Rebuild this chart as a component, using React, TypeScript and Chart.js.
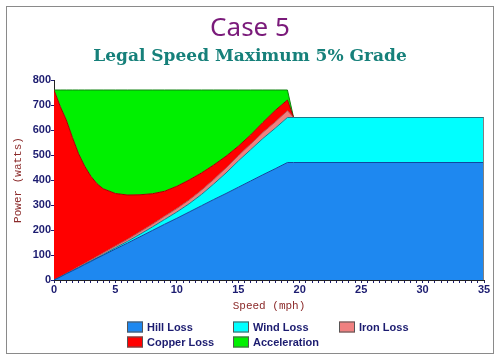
import React, { useEffect, useRef } from "react";
import { Chart, registerables } from "chart.js";

Chart.register(...registerables);

const speeds = [0, 0.5, 1, 1.5, 2, 2.5, 3, 3.5, 4, 5, 6, 7, 8, 9, 10, 11, 12, 13, 14, 15, 16, 17, 18, 19, 19.5, 35];
const hillLoss = [0, 12, 25, 37, 49, 62, 74, 87, 99, 124, 148, 173, 198, 223, 247, 272, 297, 322, 346, 371, 396, 421, 445, 470, 470, 470];
const windLoss = [0, 0, 0, 0, 1, 1, 2, 2, 3, 5, 7, 10, 14, 19, 25, 33, 45, 62, 82, 105, 125, 145, 162, 180, 180, 180];
const ironLoss = [0, 1, 1, 2, 3, 3, 4, 5, 6, 7, 8, 10, 11, 13, 14, 15, 17, 18, 20, 21, 22, 24, 25, 27, 0, 0];
const copperLoss = [760, 682, 614, 531, 452, 389, 335, 291, 257, 210, 177, 148, 122, 100, 89, 80, 69, 58, 47, 38, 37, 40, 46, 43, 0, 0];
const acceleration = [0, 65, 120, 190, 255, 305, 345, 375, 395, 414, 420, 419, 415, 405, 385, 360, 332, 300, 265, 225, 180, 130, 82, 40, 0, 0];

const seriesNames = ["Hill Loss", "Wind Loss", "Iron Loss", "Copper Loss", "Acceleration"];
const seriesValues = [hillLoss, windLoss, ironLoss, copperLoss, acceleration];
const fillColors = ["#1E88F0", "#00FFFF", "#F08080", "#FF0000", "#00F000"];
const lineColors = ["#1048a0", "#1a7a8a", "#b05050", "#a00000", "#108010"];

const titleText = "Case 5";
const subtitleText = "Legal Speed Maximum 5% Grade";
const xTitle = "Speed (mph)";
const yTitle = "Power (watts)";

const decorPlugin = {
  id: "decor",
  afterDatasetsDraw(chart: any) {
    // right edge outline of the stacked area
    const ctx = chart.ctx;
    const xs = chart.scales.x;
    const ys = chart.scales.y;
    const last = speeds.length - 1;
    let total = 0;
    seriesValues.forEach((v) => { total += v[last]; });
    const px = Math.round(xs.getPixelForValue(speeds[last])) - 0.5;
    ctx.save();
    ctx.strokeStyle = "#808080";
    ctx.lineWidth = 1;
    ctx.beginPath();
    ctx.moveTo(px, ys.getPixelForValue(total));
    ctx.lineTo(px, ys.getPixelForValue(0));
    ctx.stroke();
    ctx.restore();
  },
  afterDraw(chart: any) {
    const ctx = chart.ctx;
    const area = chart.chartArea;
    ctx.save();
    // outer frame
    ctx.strokeStyle = "#8a8a8a";
    ctx.lineWidth = 1;
    ctx.strokeRect(6.5, 6.5, 487, 347);
    // titles
    ctx.textAlign = "center";
    ctx.textBaseline = "alphabetic";
    ctx.fillStyle = "#7a1a7a";
    ctx.font = "26px 'Noto Sans'";
    ctx.fillText(titleText, 250, 36);
    ctx.fillStyle = "#16807a";
    ctx.font = "bold 17px 'DejaVu Serif'";
    ctx.fillText(subtitleText, 250, 61);
    // axis titles
    ctx.fillStyle = "#8b2a2a";
    ctx.font = "11px 'Liberation Mono'";
    ctx.textBaseline = "middle";
    ctx.fillText(xTitle, (area.left + area.right) / 2, 306);
    ctx.save();
    ctx.translate(18, (area.top + area.bottom) / 2);
    ctx.rotate(-Math.PI / 2);
    ctx.fillText(yTitle, 0, 0);
    ctx.restore();
    // legend
    const cols = [127, 233, 339];
    const rows = [326.5, 341.5];
    ctx.textAlign = "left";
    ctx.font = "bold 11px 'Liberation Sans'";
    seriesNames.forEach((name, i) => {
      const c = i % 3;
      const r = Math.floor(i / 3);
      const x = cols[c];
      const y = rows[r];
      ctx.fillStyle = fillColors[i];
      ctx.fillRect(x, y - 5, 16, 11);
      ctx.strokeStyle = "#555";
      ctx.strokeRect(x + 0.5, y - 4.5, 15, 10);
      ctx.fillStyle = "#1c1c70";
      ctx.fillText(name, x + 20, y + 1);
    });
    ctx.restore();
  },
};

export default function App() {
  const ref = useRef<HTMLCanvasElement>(null);
  useEffect(() => {
    if (!ref.current) return;
    const datasets = seriesNames.map((name, i) => ({
      label: name,
      data: speeds.map((s, j) => ({ x: s, y: seriesValues[i][j] })),
      backgroundColor: fillColors[i],
      borderColor: lineColors[i],
      borderWidth: 1,
      pointRadius: 0,
      tension: 0,
      fill: i === 0 ? "origin" : "-1",
    }));
    const tickFont = { family: "'Liberation Sans'", size: 11, weight: "bold" as const };
    const chart = new Chart(ref.current, {
      type: "line",
      data: { datasets },
      options: {
        animation: false,
        responsive: false,
        devicePixelRatio: 1,
        layout: { padding: { left: 0, right: 16, top: 80, bottom: 61 } },
        plugins: { legend: { display: false }, tooltip: { enabled: false }, title: { display: false } },
        scales: {
          x: {
            type: "linear",
            min: 0,
            max: 35,
            afterFit: (s: any) => { s.height = 20; },
            ticks: {
              stepSize: 0.5,
              autoSkip: false,
              maxTicksLimit: 200,
              maxRotation: 0,
              padding: 0,
              color: "#1c1c70",
              font: tickFont,
              callback: (v: any) => (Number(v) % 5 === 0 ? String(v) : ""),
            },
            grid: { drawOnChartArea: false, drawTicks: true, tickLength: 3, color: "#1c1c70" },
            border: { display: true, color: "#222", width: 1 },
          },
          y: {
            stacked: true,
            min: 0,
            max: 800,
            afterFit: (s: any) => { s.width = 54; },
            ticks: { stepSize: 100, padding: 0, color: "#1c1c70", font: tickFont },
            grid: { drawOnChartArea: false, drawTicks: true, tickLength: 3, color: "#1c1c70" },
            border: { display: true, color: "#222", width: 1 },
          },
        },
      },
      plugins: [decorPlugin],
    });
    return () => chart.destroy();
  }, []);
  return (
    <div style={{ position: "absolute", left: 0, top: 0, width: 500, height: 361 }}>
      <canvas ref={ref} width={500} height={361} />
    </div>
  );
}
